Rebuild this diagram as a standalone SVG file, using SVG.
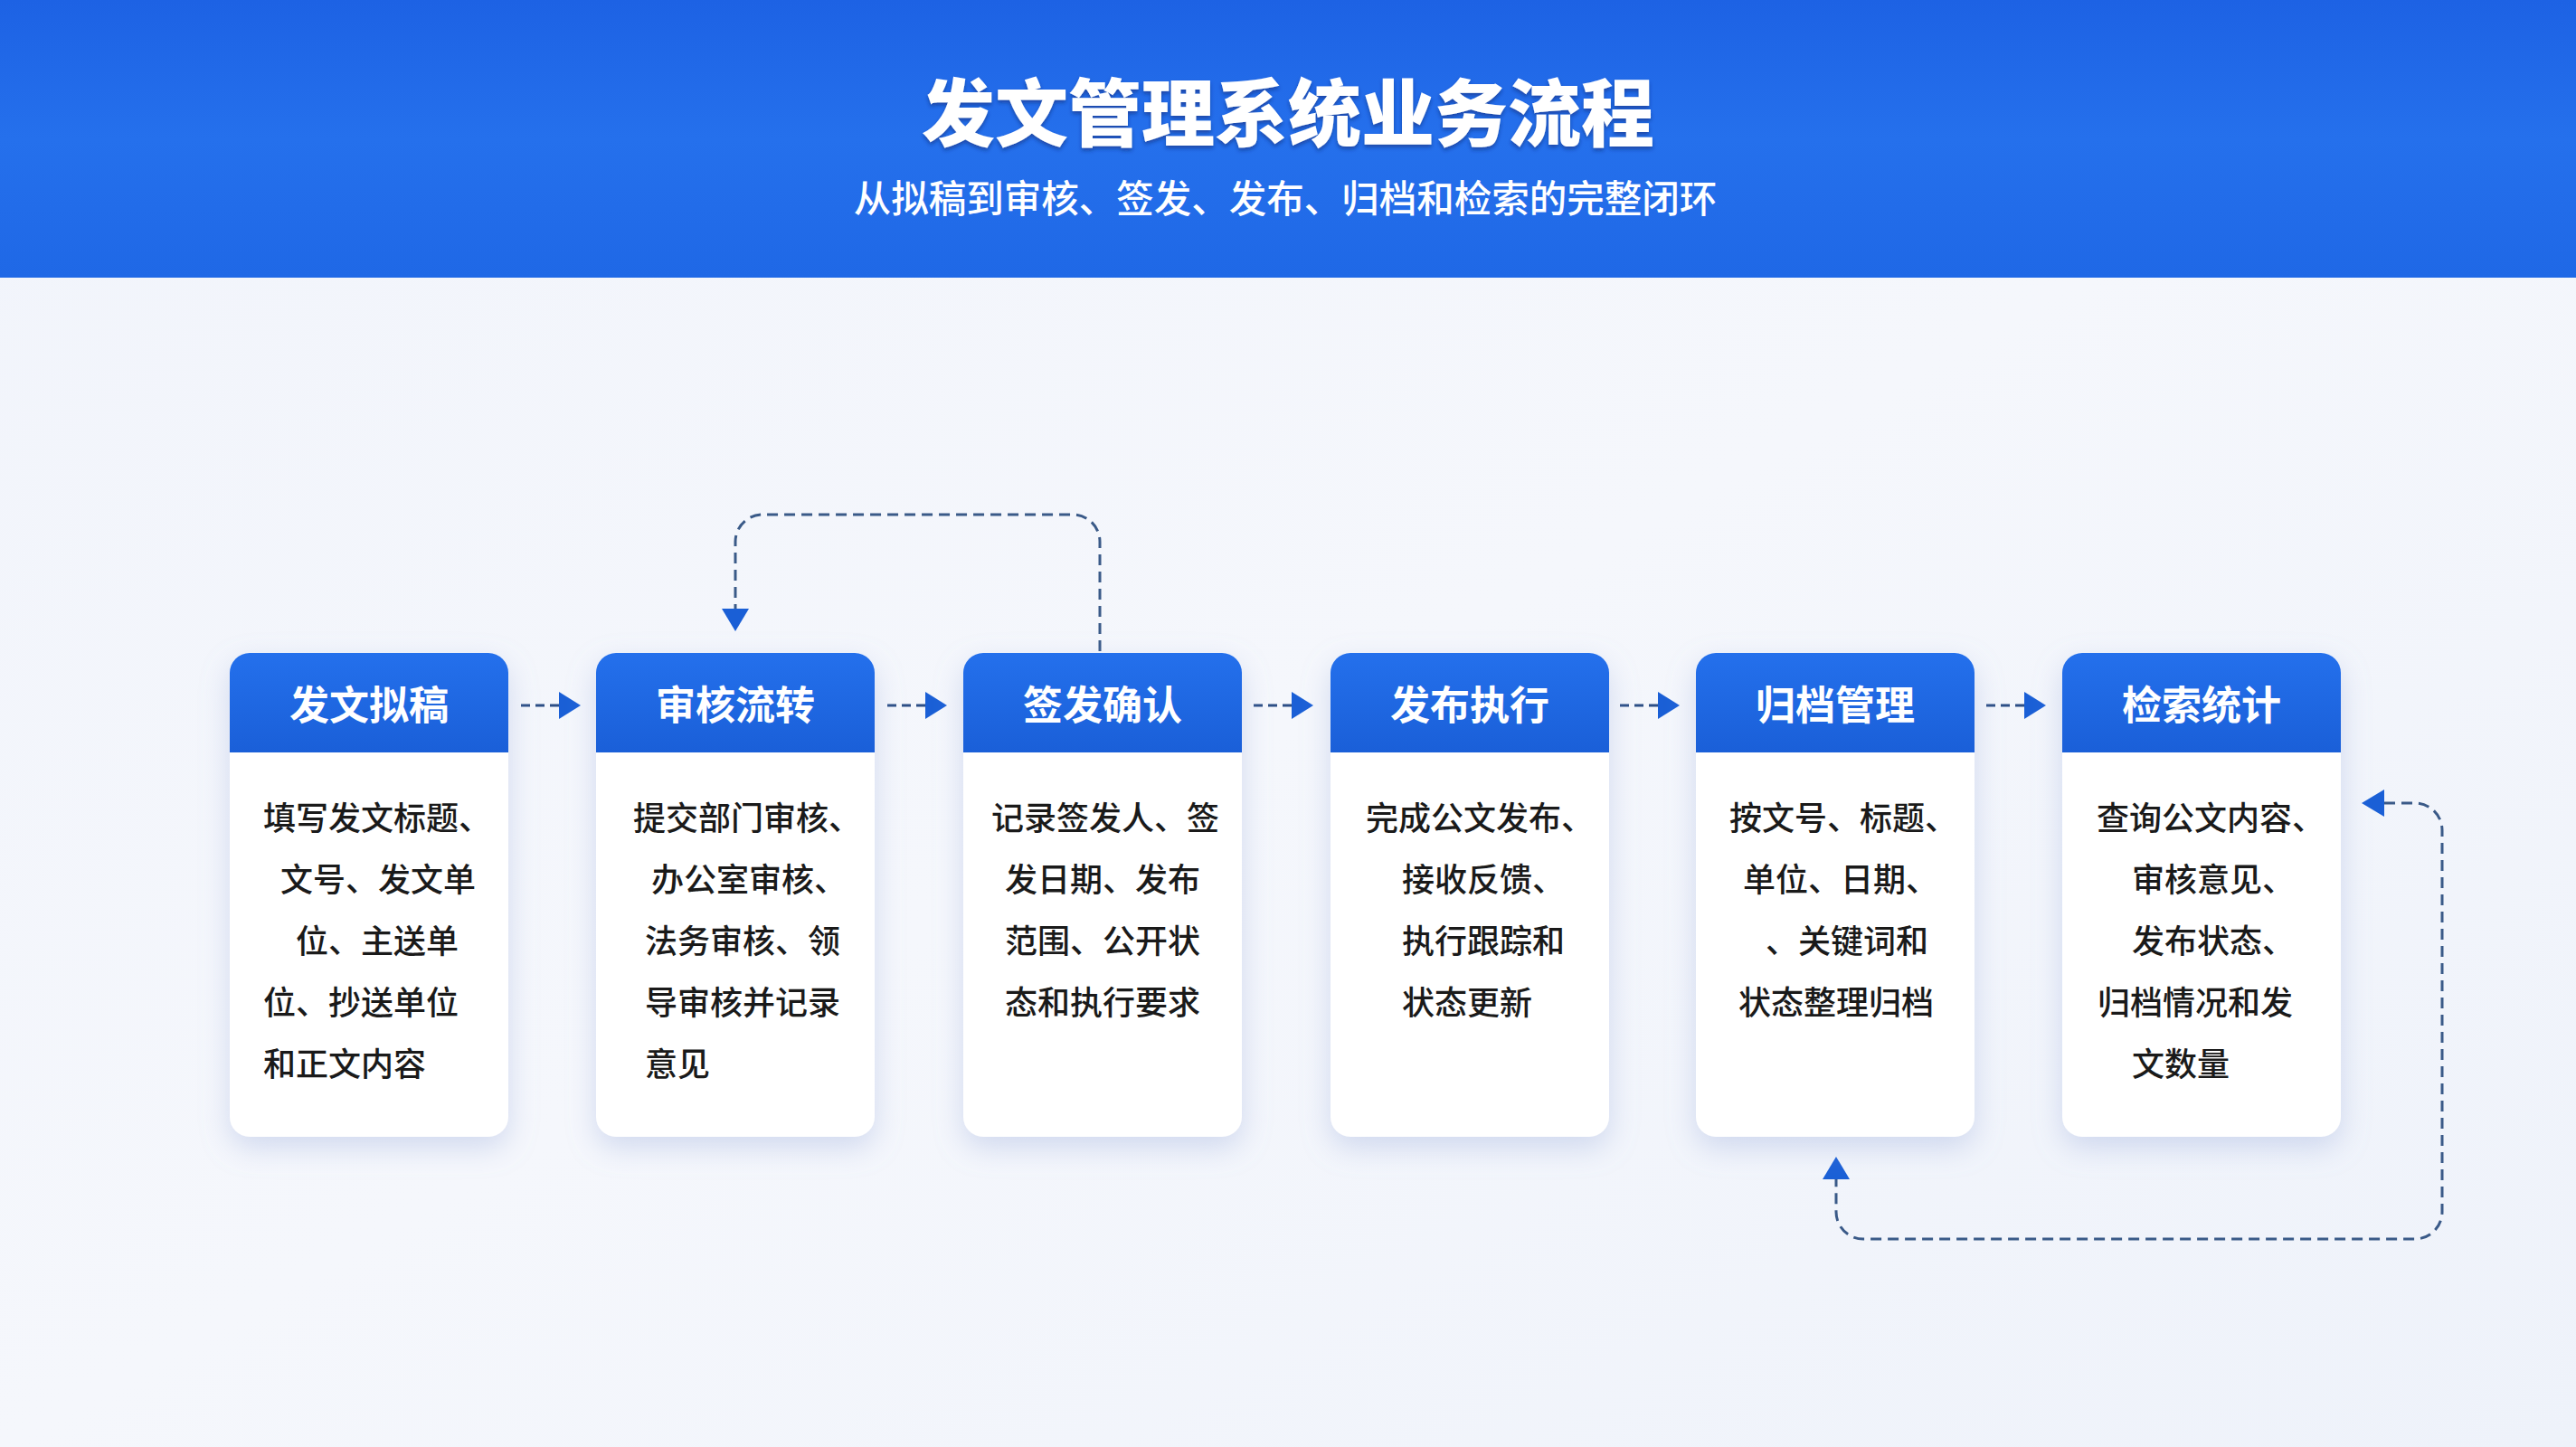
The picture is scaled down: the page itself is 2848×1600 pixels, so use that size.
<svg xmlns="http://www.w3.org/2000/svg" width="2848" height="1600" viewBox="0 0 2848 1600">
  <defs>
    <linearGradient id="bandGrad" x1="0" y1="0" x2="0" y2="1">
      <stop offset="0" stop-color="#1d62e4"/>
      <stop offset="0.5" stop-color="#2570ec"/>
      <stop offset="1" stop-color="#1f68e6"/>
    </linearGradient>
    <linearGradient id="bgGrad" x1="0" y1="0" x2="1" y2="1">
      <stop offset="0" stop-color="#f1f4fb"/>
      <stop offset="0.5" stop-color="#f5f7fc"/>
      <stop offset="1" stop-color="#eef2fa"/>
    </linearGradient>
    <linearGradient id="headGrad" x1="0" y1="0" x2="0" y2="1">
      <stop offset="0" stop-color="#2470ec"/>
      <stop offset="1" stop-color="#1a5fd8"/>
    </linearGradient>
    <filter id="cardShadow" x="-30%" y="-20%" width="160%" height="150%">
      <feDropShadow dx="0" dy="12" stdDeviation="16" flood-color="#8fa3d6" flood-opacity="0.35"/>
    </filter>
    <filter id="titleShadow" x="-10%" y="-30%" width="120%" height="160%">
      <feDropShadow dx="0" dy="3" stdDeviation="2" flood-color="#0b2a70" flood-opacity="0.55"/>
    </filter>
    <style>
      .title { font-family: "Noto Sans CJK SC", "Noto Sans", sans-serif; font-size: 81px; font-weight: 900; fill: #ffffff; text-anchor: middle; }
      .subtitle { font-family: "Noto Sans CJK SC", "Noto Sans", sans-serif; font-size: 41.5px; font-weight: 500; fill: #ffffff; text-anchor: middle; }
      .card { fill: #ffffff; }
      .head { fill: url(#headGrad); }
      .headText { font-family: "Noto Sans CJK SC", "Noto Sans", sans-serif; font-size: 44px; font-weight: 700; fill: #ffffff; text-anchor: middle; }
      .body { font-family: "Noto Sans CJK SC", "Noto Sans", sans-serif; font-size: 36px; font-weight: 500; fill: #1a1a1a; }
      .flow { fill: none; stroke: #2d4f86; stroke-width: 3; stroke-dasharray: 10 6; }
      .loop { fill: none; stroke: #3a5a88; stroke-width: 3; stroke-dasharray: 12 7; }
      .tip { fill: #1a5fd6; }
    </style>
  </defs>

  <rect x="0" y="0" width="2848" height="1600" fill="url(#bgGrad)"/>
  <rect x="0" y="0" width="2848" height="307" fill="url(#bandGrad)"/>

  <g id="header">
    <text class="title" x="1424" y="155" filter="url(#titleShadow)">发文管理系统业务流程</text>
    <text class="subtitle" x="1421" y="235">从拟稿到审核、签发、发布、归档和检索的完整闭环</text>
  </g>

  <g id="connectors">
    <line class="flow" x1="576" y1="780" x2="618" y2="780"/>
    <polygon class="tip" points="618,765 642,780 618,795"/>
    <line class="flow" x1="981" y1="780" x2="1023" y2="780"/>
    <polygon class="tip" points="1023,765 1047,780 1023,795"/>
    <line class="flow" x1="1386" y1="780" x2="1428" y2="780"/>
    <polygon class="tip" points="1428,765 1452,780 1428,795"/>
    <line class="flow" x1="1791" y1="780" x2="1833" y2="780"/>
    <polygon class="tip" points="1833,765 1857,780 1833,795"/>
    <line class="flow" x1="2196" y1="780" x2="2238" y2="780"/>
    <polygon class="tip" points="2238,765 2262,780 2238,795"/>

    <path class="loop" d="M 1216,720 V 599 A 30 30 0 0 0 1186,569 H 843 A 30 30 0 0 0 813,599 V 673"/>
    <polygon class="tip" points="798,673 828,673 813,698"/>

    <path class="loop" d="M 2636,888 H 2670 A 30 30 0 0 1 2700,918 V 1340 A 30 30 0 0 1 2670,1370 H 2060 A 30 30 0 0 1 2030,1340 V 1304"/>
    <polygon class="tip" points="2636,873 2636,903 2611,888"/>
    <polygon class="tip" points="2015,1304 2045,1304 2030,1279"/>
  </g>

  <g id="node-1">
    <rect class="card" x="254" y="722" width="308" height="535" rx="22" filter="url(#cardShadow)"/>
    <path class="head" d="M 254,832 V 744 A 22 22 0 0 1 276,722 H 540 A 22 22 0 0 1 562,744 V 832 Z"/>
    <text class="headText" x="408" y="796">发文拟稿</text>
    <text class="body" x="291" y="918">填写发文标题、</text>
    <text class="body" x="310" y="986">文号、发文单</text>
    <text class="body" x="327" y="1054">位、主送单</text>
    <text class="body" x="291" y="1122">位、抄送单位</text>
    <text class="body" x="291" y="1190">和正文内容</text>
  </g>

  <g id="node-2">
    <rect class="card" x="659" y="722" width="308" height="535" rx="22" filter="url(#cardShadow)"/>
    <path class="head" d="M 659,832 V 744 A 22 22 0 0 1 681,722 H 945 A 22 22 0 0 1 967,744 V 832 Z"/>
    <text class="headText" x="813" y="796">审核流转</text>
    <text class="body" x="700" y="918">提交部门审核、</text>
    <text class="body" x="720" y="986">办公室审核、</text>
    <text class="body" x="713" y="1054">法务审核、领</text>
    <text class="body" x="713" y="1122">导审核并记录</text>
    <text class="body" x="713" y="1190">意见</text>
  </g>

  <g id="node-3">
    <rect class="card" x="1065" y="722" width="308" height="535" rx="22" filter="url(#cardShadow)"/>
    <path class="head" d="M 1065,832 V 744 A 22 22 0 0 1 1087,722 H 1351 A 22 22 0 0 1 1373,744 V 832 Z"/>
    <text class="headText" x="1219" y="796">签发确认</text>
    <text class="body" x="1096" y="918">记录签发人、签</text>
    <text class="body" x="1111" y="986">发日期、发布</text>
    <text class="body" x="1111" y="1054">范围、公开状</text>
    <text class="body" x="1111" y="1122">态和执行要求</text>
  </g>

  <g id="node-4">
    <rect class="card" x="1471" y="722" width="308" height="535" rx="22" filter="url(#cardShadow)"/>
    <path class="head" d="M 1471,832 V 744 A 22 22 0 0 1 1493,722 H 1757 A 22 22 0 0 1 1779,744 V 832 Z"/>
    <text class="headText" x="1625" y="796">发布执行</text>
    <text class="body" x="1510" y="918">完成公文发布、</text>
    <text class="body" x="1550" y="986">接收反馈、</text>
    <text class="body" x="1550" y="1054">执行跟踪和</text>
    <text class="body" x="1550" y="1122">状态更新</text>
  </g>

  <g id="node-5">
    <rect class="card" x="1875" y="722" width="308" height="535" rx="22" filter="url(#cardShadow)"/>
    <path class="head" d="M 1875,832 V 744 A 22 22 0 0 1 1897,722 H 2161 A 22 22 0 0 1 2183,744 V 832 Z"/>
    <text class="headText" x="2029" y="796">归档管理</text>
    <text class="body" x="1912" y="918">按文号、标题、</text>
    <text class="body" x="1927" y="986">单位、日期、</text>
    <text class="body" x="1952" y="1054">、关键词和</text>
    <text class="body" x="1922" y="1122">状态整理归档</text>
  </g>

  <g id="node-6">
    <rect class="card" x="2280" y="722" width="308" height="535" rx="22" filter="url(#cardShadow)"/>
    <path class="head" d="M 2280,832 V 744 A 22 22 0 0 1 2302,722 H 2566 A 22 22 0 0 1 2588,744 V 832 Z"/>
    <text class="headText" x="2434" y="796">检索统计</text>
    <text class="body" x="2318" y="918">查询公文内容、</text>
    <text class="body" x="2357" y="986">审核意见、</text>
    <text class="body" x="2357" y="1054">发布状态、</text>
    <text class="body" x="2319" y="1122">归档情况和发</text>
    <text class="body" x="2357" y="1190">文数量</text>
  </g>
</svg>
